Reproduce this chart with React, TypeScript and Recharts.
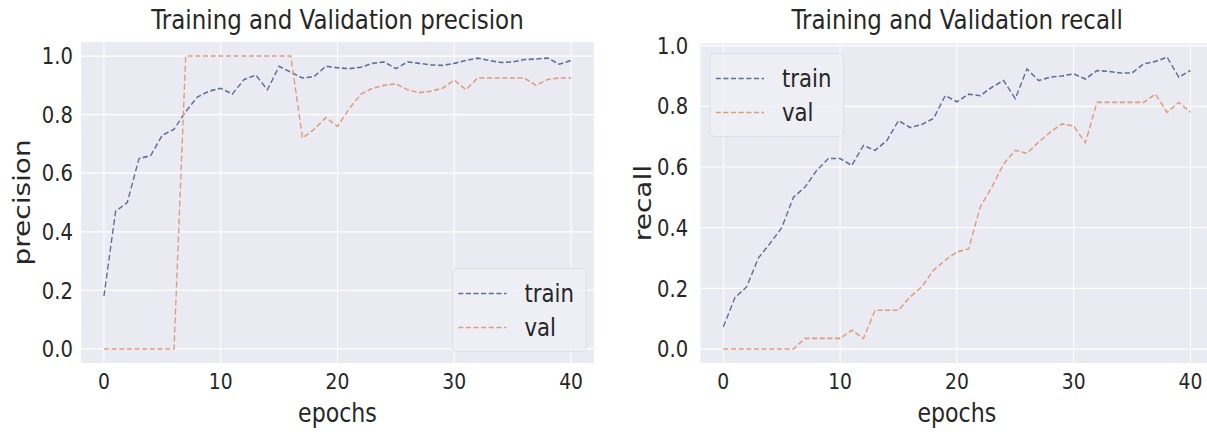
import { CartesianGrid, Label, Legend, Line, LineChart, XAxis, YAxis } from "recharts";

const epochs = [
  0, 1, 2, 3, 4, 5, 6, 7, 8, 9, 10, 11, 12, 13, 14, 15, 16, 17, 18, 19, 20,
  21, 22, 23, 24, 25, 26, 27, 28, 29, 30, 31, 32, 33, 34, 35, 36, 37, 38, 39, 40,
];

const precisionTrain = [
  0.18, 0.47, 0.5, 0.65, 0.66, 0.73, 0.75, 0.81, 0.86, 0.88, 0.89, 0.87, 0.92,
  0.935, 0.885, 0.965, 0.945, 0.925, 0.93, 0.965, 0.96, 0.957, 0.962, 0.975,
  0.98, 0.957, 0.98, 0.975, 0.97, 0.968, 0.975, 0.985, 0.993, 0.985, 0.978,
  0.98, 0.988, 0.99, 0.993, 0.972, 0.985,
];
const precisionVal = [
  0, 0, 0, 0, 0, 0, 0, 1, 1, 1, 1, 1, 1, 1, 1, 1, 1, 0.72, 0.75, 0.79, 0.76,
  0.82, 0.87, 0.89, 0.9, 0.905, 0.885, 0.875, 0.88, 0.89, 0.918, 0.885, 0.925,
  0.925, 0.925, 0.925, 0.925, 0.9, 0.92, 0.925, 0.925,
];

const recallTrain = [
  0.073, 0.17, 0.205, 0.3, 0.348, 0.4, 0.5, 0.534, 0.589, 0.628, 0.628, 0.605,
  0.671, 0.655, 0.687, 0.753, 0.73, 0.74, 0.76, 0.835, 0.815, 0.84, 0.835,
  0.863, 0.885, 0.825, 0.923, 0.885, 0.896, 0.9, 0.907, 0.89, 0.918, 0.915,
  0.91, 0.91, 0.94, 0.948, 0.962, 0.896, 0.918,
];
const recallVal = [
  0, 0, 0, 0, 0, 0, 0, 0.035, 0.035, 0.035, 0.035, 0.062, 0.035, 0.128, 0.128,
  0.128, 0.172, 0.205, 0.26, 0.293, 0.32, 0.33, 0.468, 0.534, 0.61, 0.655,
  0.645, 0.682, 0.715, 0.742, 0.735, 0.68, 0.813, 0.813, 0.813, 0.813, 0.813,
  0.84, 0.78, 0.813, 0.78,
];

const xTicks = [0, 10, 20, 30, 40];
const yTicks = [0, 0.2, 0.4, 0.6, 0.8, 1.0];
const seriesNames = ["train", "val"];

const TEXT = "#262626";
const BG = "#EAEAF2";
const TRAIN = "#5d6f98";
const VAL = "#e09a7c";
// the reference looks squeezed sideways, so the whole figure is drawn wider and scaled back
const SX = 0.85;

function rows(train: number[], val: number[]) {
  return epochs.map((e, i) => ({ epoch: e, train: train[i], val: val[i] }));
}

function LegendBox() {
  const colors = [TRAIN, VAL];
  return (
    <div
      style={{
        width: 158,
        height: 84,
        boxSizing: "border-box",
        background: "rgba(238,238,245,0.9)",
        border: "1px solid #dcdce4",
        borderRadius: 5,
        position: "relative",
      }}
    >
      {seriesNames.map((n, i) => (
        <div
          key={n}
          style={{
            position: "absolute",
            left: 6,
            top: i === 0 ? 24 : 58,
            transform: "translateY(-50%)",
            display: "flex",
            alignItems: "center",
          }}
        >
          <svg width={57} height={4}>
            <line x1={0} y1={2} x2={57} y2={2} stroke={colors[i]} strokeWidth={1.6} strokeDasharray="6 3" />
          </svg>
          <span style={{ marginLeft: 21, fontSize: 25, color: TEXT, lineHeight: 1 }}>{n}</span>
        </div>
      ))}
    </div>
  );
}

const yLabel = (text: string) => (props: any) => {
  const vb = props.viewBox;
  const cx = vb.x + 26;
  const cy = vb.y + vb.height / 2;
  return (
    <text
      x={cx}
      y={cy}
      transform={`rotate(-90 ${cx} ${cy})`}
      textAnchor="middle"
      dominantBaseline="central"
      fontSize={28}
      fill={TEXT}
    >
      {text}
    </text>
  );
};

function Panel(props: {
  train: number[];
  val: number[];
  yName: string;
  yDomain: [number, number];
  width: number;
  top: number;
  yAxisWidth: number;
  right: number;
  tickGap: number;
  legendPos: { left: number; top: number };
}) {
  return (
    <LineChart
      width={props.width}
      height={435}
      data={rows(props.train, props.val)}
      margin={{ top: props.top, right: props.right, bottom: 0, left: 0 }}
    >
      <CartesianGrid fill={BG} stroke="#ffffff" strokeWidth={1.2} />
      <XAxis
        dataKey="epoch"
        type="number"
        domain={[-2, 42]}
        ticks={xTicks}
        height={71.4}
        axisLine={false}
        tickLine={false}
        tickSize={0}
        tickMargin={10}
        tick={{ fill: TEXT, fontSize: 22 }}
      >
        <Label value="epochs" position="insideBottom" offset={13} fontSize={26} fill={TEXT} />
      </XAxis>
      <YAxis
        type="number"
        domain={props.yDomain}
        ticks={yTicks}
        width={props.yAxisWidth}
        axisLine={false}
        tickLine={false}
        tickSize={0}
        tickMargin={props.tickGap}
        tickFormatter={(v: number) => v.toFixed(1)}
        tick={{ fill: TEXT, fontSize: 23 }}
      >
        <Label content={yLabel(props.yName)} />
      </YAxis>
      <Legend
        layout="vertical"
        align="center"
        verticalAlign="middle"
        content={() => <LegendBox />}
        wrapperStyle={{ left: props.legendPos.left, top: props.legendPos.top, width: 158, height: 84 }}
      />
      <Line
        type="linear"
        dataKey="train"
        name="train"
        stroke={TRAIN}
        strokeWidth={1.6}
        strokeDasharray="6 3"
        dot={false}
        isAnimationActive={false}
      />
      <Line
        type="linear"
        dataKey="val"
        name="val"
        stroke={VAL}
        strokeWidth={1.6}
        strokeDasharray="6 3"
        dot={false}
        isAnimationActive={false}
      />
    </LineChart>
  );
}

const titleStyle = (center: number): React.CSSProperties => ({
  position: "absolute",
  left: center - 300,
  width: 600,
  top: 6,
  textAlign: "center",
  fontSize: 27,
  lineHeight: "27px",
  color: TEXT,
});

export default function App() {
  return (
    <div
      style={{
        position: "absolute",
        left: 0,
        top: 0,
        width: 1207,
        height: 435,
        overflow: "hidden",
        background: "#ffffff",
        fontFamily: "'DejaVu Sans', sans-serif",
      }}
    >
      <div
        style={{
          position: "relative",
          width: 1440,
          height: 435,
          transform: `scaleX(${SX})`,
          transformOrigin: "0 0",
        }}
      >
        <div style={titleStyle(397)}>Training and Validation precision</div>
        <div style={titleStyle(1126)}>Training and Validation recall</div>
        <div style={{ position: "absolute", left: 0, top: 0 }}>
          <Panel
            train={precisionTrain}
            val={precisionVal}
            yName="precision"
            yDomain={[-0.05, 1.05]}
            width={705}
            top={41.4}
            yAxisWidth={94.8}
            right={5.7}
            tickGap={9}
            legendPos={{ left: 532, top: 268 }}
          />
        </div>
        <div style={{ position: "absolute", left: 730, top: 0 }}>
          <Panel
            train={recallTrain}
            val={recallVal}
            yName="recall"
            yDomain={[-0.048, 1.01]}
            width={703}
            top={42.6}
            yAxisWidth={93.5}
            right={5}
            tickGap={14}
            legendPos={{ left: 105, top: 53 }}
          />
        </div>
      </div>
    </div>
  );
}
